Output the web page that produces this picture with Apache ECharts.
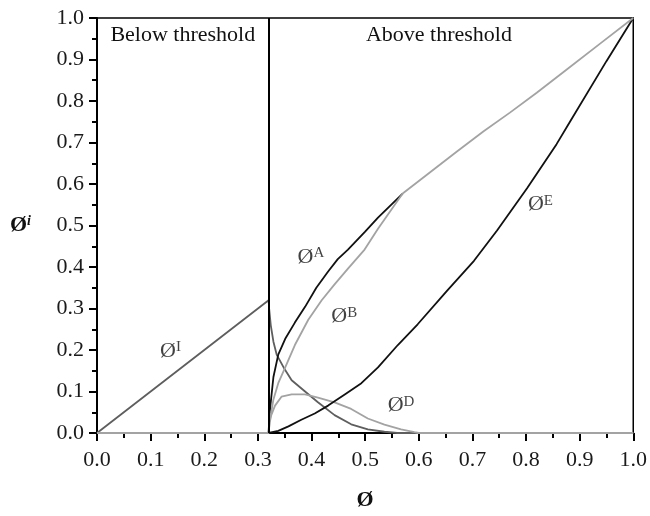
<!DOCTYPE html>
<html>
<head>
<meta charset="utf-8">
<script src="https://cdn.jsdelivr.net/npm/echarts@6/dist/echarts.min.js"></script>
<style>
  html, body { margin: 0; padding: 0; background: #fff; }
  #chart { width: 650px; height: 516px; }
</style>
</head>
<body>
<div id="chart"></div>
<script>
const FONT = 'Liberation Serif';

// x-axis ticks
const xTicks = [0, 0.1, 0.2, 0.3, 0.4, 0.5, 0.6, 0.7, 0.8, 0.9, 1.0];
const threshold = 0.32;

// each curve as [phi, phi_i]
const phiI = [
  [0, 0], [0.32, 0.32], [0.321, 0.30], [0.324, 0.26], [0.329, 0.22], [0.335, 0.189],
  [0.348, 0.158], [0.363, 0.127], [0.388, 0.10], [0.412, 0.074], [0.443, 0.043],
  [0.474, 0.021], [0.505, 0.0085], [0.536, 0.003], [0.56, 0], [1.0, 0]
];
const phiD = [
  [0, 0], [0.32, 0], [0.322, 0.025], [0.325, 0.043], [0.332, 0.066], [0.344, 0.0875],
  [0.363, 0.093], [0.388, 0.093], [0.412, 0.085], [0.443, 0.074], [0.474, 0.058],
  [0.505, 0.035], [0.536, 0.020], [0.567, 0.0085], [0.592, 0.002], [0.6, 0], [1.0, 0]
];
const phiB = [
  [0, 0], [0.32, 0], [0.322, 0.03], [0.325, 0.05], [0.329, 0.081], [0.338, 0.12],
  [0.351, 0.158], [0.369, 0.212], [0.394, 0.273], [0.419, 0.32], [0.443, 0.358],
  [0.468, 0.396], [0.499, 0.442], [0.524, 0.492], [0.570, 0.577], [0.62, 0.627],
  [0.67, 0.677], [0.721, 0.727], [0.77, 0.772], [0.82, 0.82], [0.876, 0.876],
  [0.94, 0.94], [1.0, 1.0]
];
const phiA = [
  [0, 0], [0.32, 0], [0.3215, 0.04], [0.324, 0.074], [0.329, 0.135], [0.338, 0.189],
  [0.351, 0.227], [0.369, 0.266], [0.388, 0.304], [0.409, 0.35], [0.431, 0.389],
  [0.449, 0.419], [0.468, 0.442], [0.50, 0.485], [0.524, 0.519], [0.570, 0.577]
];
const phiE = [
  [0, 0], [0.32, 0], [0.338, 0.005], [0.357, 0.016], [0.381, 0.032], [0.406, 0.047],
  [0.431, 0.066], [0.462, 0.093], [0.493, 0.12], [0.524, 0.158], [0.561, 0.212],
  [0.598, 0.262], [0.653, 0.343], [0.703, 0.415], [0.746, 0.488], [0.802, 0.59],
  [0.857, 0.696], [0.882, 0.75], [0.95, 0.896], [1.0, 1.0]
];

// curve labels: superscript, anchor in data space
const curveLabels = [
  { sup: 'I', at: [0.137, 0.198] },
  { sup: 'A', at: [0.399, 0.424] },
  { sup: 'B', at: [0.461, 0.281] },
  { sup: 'D', at: [0.567, 0.067] },
  { sup: 'E', at: [0.827, 0.551] }
];

const DARK = '#5e5e5e';
const LIGHT = '#a3a3a3';
const BLACK = '#111';

const chart = echarts.init(document.getElementById('chart'), null, { renderer: 'canvas' });

const line = (name, data, color, extra) => Object.assign({
  name, type: 'line', data, showSymbol: false, symbol: 'none', silent: true,
  lineStyle: { color, width: 1.8 }, z: 3
}, extra || {});

const option = {
  animation: false,
  backgroundColor: '#fff',
  grid: {
    left: 97, right: 13, top: 18, bottom: 64,
    show: true, borderColor: '#000', borderWidth: 1.5, backgroundColor: 'transparent'
  },
  xAxis: {
    type: 'value', min: 0, max: 1, interval: 0.1,
    name: 'Ø', nameLocation: 'middle', nameGap: 56,
    nameTextStyle: { fontFamily: FONT, fontSize: 22, fontWeight: 'bold', color: '#111' },
    axisLine: { lineStyle: { color: '#000', width: 2 } },
    axisTick: { length: 8, lineStyle: { color: '#000', width: 2 } },
    minorTick: { show: true, splitNumber: 2, length: 5, lineStyle: { color: '#000', width: 2 } },
    splitLine: { show: false },
    axisLabel: {
      margin: 16, fontFamily: FONT, fontSize: 22, color: '#1a1a1a',
      formatter: v => xTicks.includes(Math.round(v * 10) / 10) ? v.toFixed(1) : ''
    }
  },
  yAxis: {
    type: 'value', min: 0, max: 1, interval: 0.1,
    name: '{o|Ø}{s|i}', nameLocation: 'middle', nameRotate: 0, nameGap: 66,
    nameTextStyle: {
      fontFamily: FONT, color: '#111', align: 'right',
      rich: {
        o: { fontFamily: FONT, fontSize: 22, fontWeight: 'bold', color: '#111' },
        s: { fontFamily: FONT, fontSize: 14, fontWeight: 'bold', fontStyle: 'italic', color: '#111', verticalAlign: 'top' }
      }
    },
    axisLine: { lineStyle: { color: '#000', width: 2 } },
    axisTick: { length: 8, lineStyle: { color: '#000', width: 2 } },
    minorTick: { show: true, splitNumber: 2, length: 5, lineStyle: { color: '#000', width: 2 } },
    splitLine: { show: false },
    axisLabel: {
      margin: 13, fontFamily: FONT, fontSize: 22, color: '#1a1a1a',
      formatter: v => v.toFixed(1)
    }
  },
  series: [
    line('ØI', phiI, DARK, {
      markLine: {
        silent: true, symbol: 'none', label: { show: false },
        lineStyle: { color: '#000', width: 2, type: 'solid' },
        data: [{ xAxis: threshold }]
      },
      markArea: {
        silent: true,
        itemStyle: { color: 'transparent' },
        label: { position: 'insideTop', distance: 6, fontFamily: FONT, fontSize: 22, color: '#111' },
        data: [
          [{ name: 'Below threshold', xAxis: 0, yAxis: 1 }, { xAxis: threshold, yAxis: 0 }],
          [{ name: 'Above threshold', xAxis: threshold, yAxis: 1, label: { offset: [-12, 0] } }, { xAxis: 1, yAxis: 0 }]
        ]
      }
    }),
    line('ØD', phiD, LIGHT),
    line('ØE', phiE, BLACK),
    line('ØA', phiA, BLACK),
    line('ØB', phiB, LIGHT),
    {
      type: 'scatter', silent: true, z: 5,
      symbolSize: 1, itemStyle: { color: 'transparent' },
      data: curveLabels.map(d => ({ value: d.at, sup: d.sup })),
      label: {
        show: true, position: 'inside',
        formatter: p => '{o|Ø}{s|' + p.data.sup + '}',
        rich: {
          o: { fontFamily: FONT, fontSize: 22, color: '#111' },
          s: { fontFamily: FONT, fontSize: 15, color: '#111', verticalAlign: 'top' }
        }
      }
    }
  ]
};

chart.setOption(option);
</script>
</body>
</html>
